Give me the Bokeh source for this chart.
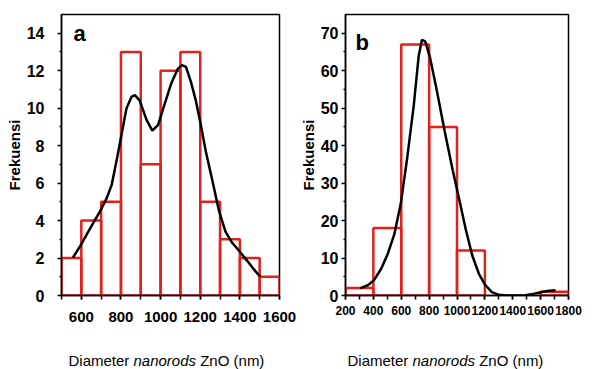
from bokeh.plotting import figure
from bokeh.models import Range1d, FixedTicker, Label
from bokeh.layouts import row, column
from bokeh.core.properties import value
from bokeh.embed import file_html
from bokeh.resources import INLINE

# ---------------- Panel a data ----------------
a_bin_left = [500, 600, 700, 800, 900, 1000, 1100, 1200, 1300, 1400, 1500]
a_bin_right = [600, 700, 800, 900, 1000, 1100, 1200, 1300, 1400, 1500, 1600]
a_counts = [2, 4, 5, 13, 7, 12, 13, 5, 3, 2, 1]
a_curve_x = [558, 595, 628, 662, 695, 728, 753, 778, 803, 828, 853, 870, 895, 928,
             958, 987, 1020, 1053, 1087, 1108, 1128, 1153, 1178, 1203, 1228, 1262,
             1295, 1328, 1362, 1395, 1437, 1478, 1503]
a_curve_y = [2.03, 2.65, 3.27, 3.9, 4.5, 5.2, 5.9, 7.2, 8.6, 10.0, 10.6, 10.7, 10.4, 9.4,
             8.8, 9.1, 10.2, 11.3, 12.1, 12.3, 12.2, 11.4, 10.4, 9.1, 7.7, 6.1,
             4.5, 3.4, 2.8, 2.4, 1.85, 1.3, 1.0]
a_xticks = [600, 800, 1000, 1200, 1400, 1600]
a_xminor = [500, 600, 700, 800, 900, 1000, 1100, 1200, 1300, 1400, 1500, 1600]
a_yticks = [0, 2, 4, 6, 8, 10, 12, 14]
a_yminor = [1, 3, 5, 7, 9, 11, 13]

# ---------------- Panel b data ----------------
b_bin_left = [200, 400, 600, 800, 1000, 1600]
b_bin_right = [400, 600, 800, 1000, 1200, 1800]
b_counts = [2, 18, 67, 45, 12, 1]
b_curve_x = [305, 363, 405, 457, 503, 550, 597, 643, 690, 725, 748, 772, 807, 853,
             912, 970, 1017, 1063, 1110, 1157, 1203, 1250, 1297, 1367, 1483, 1553,
             1647, 1706]
b_curve_y = [1.9, 2.8, 4.1, 7.2, 11.1, 16.3, 24.6, 36.8, 50.8, 63.9, 68.2, 67.8, 63.4, 55.1,
             43.8, 33.3, 25.5, 17.6, 10.6, 5.8, 2.8, 0.9, 0.2, 0.0, 0.0, 0.5,
             1.2, 1.4]
b_xticks = [200, 400, 600, 800, 1000, 1200, 1400, 1600, 1800]
b_xminor = [200, 300, 400, 500, 600, 700, 800, 900, 1000, 1100, 1200, 1300, 1400,
            1500, 1600, 1700, 1800]
b_yticks = [0, 10, 20, 30, 40, 50, 60, 70]
b_yminor = [5, 15, 25, 35, 45, 55, 65]

y_label = "Frekuensi"
x_label_parts = ["Diameter", "nanorods", "ZnO (nm)"]
x_label_styles = ["normal", "italic", "normal"]

RED = "#e2211c"
FONT = "Liberation Sans"


def style(p, xt, xm, yt, ym, xstand, ystand, xsize, ysize):
    p.xgrid.visible = False
    p.ygrid.visible = False
    p.outline_line_color = "black"
    p.outline_line_width = 1.5
    p.background_fill_color = "white"
    p.border_fill_color = "white"
    p.xaxis.ticker = FixedTicker(ticks=xt, minor_ticks=xm)
    p.yaxis.ticker = FixedTicker(ticks=yt, minor_ticks=ym)
    for ax in (p.xaxis[0], p.yaxis[0]):
        ax.axis_line_color = "black"
        ax.axis_line_width = 1.5
        ax.major_tick_in = 0
        ax.major_tick_out = 4
        ax.minor_tick_in = 0
        ax.major_tick_line_color = "black"
        ax.minor_tick_line_color = "black"
        ax.major_tick_line_width = 1.5
        ax.minor_tick_line_width = 1.5
        ax.major_label_text_font = FONT
        ax.major_label_text_font_style = "bold"
        ax.major_label_text_color = "black"
    p.xaxis.major_label_text_font_size = xsize
    p.yaxis.major_label_text_font_size = ysize
    p.xaxis.minor_tick_out = 4
    p.yaxis.minor_tick_out = 2
    p.xaxis.major_label_standoff = xstand
    p.yaxis.major_label_standoff = ystand
    p.yaxis.axis_label = y_label
    p.yaxis.axis_label_text_font = FONT
    p.yaxis.axis_label_text_font_style = "bold"
    p.yaxis.axis_label_text_font_size = "15px"
    p.yaxis.axis_label_text_color = "black"
    p.yaxis.axis_label_standoff = 1


# ---------------- Figure a ----------------
pa = figure(width=296, height=335, x_range=Range1d(500, 1600), y_range=Range1d(0, 15),
            output_backend="svg", toolbar_location=None,
            min_border_left=61, min_border_right=17, min_border_top=13, min_border_bottom=40)
style(pa, a_xticks, a_xminor, a_yticks, a_yminor, 12, 13, "15px", "16px")
pa.quad(left=a_bin_left, right=a_bin_right, top=a_counts, bottom=0,
        fill_color=None, line_color=RED, line_width=2.5)
pa.line(a_curve_x, a_curve_y, line_color="black", line_width=2.5)
pa.add_layout(Label(x=560, y=14.0, text="a", text_font=FONT, text_font_size="22px",
                    text_font_style="bold", text_color="black", text_baseline="alphabetic"))

# ---------------- Figure b ----------------
pb = figure(width=304, height=335, x_range=Range1d(200, 1800), y_range=Range1d(0, 75),
            output_backend="svg", toolbar_location=None,
            min_border_left=42, min_border_right=32, min_border_top=14, min_border_bottom=34)
style(pb, b_xticks, b_xminor, b_yticks, b_yminor, 6, 3, "12px", "16px")
pb.quad(left=b_bin_left, right=b_bin_right, top=b_counts, bottom=0,
        fill_color=None, line_color=RED, line_width=2.5)
pb.line(b_curve_x, b_curve_y, line_color="black", line_width=2.5)
pb.add_layout(Label(x=272, y=67.5, text="b", text_font=FONT, text_font_size="22px",
                    text_font_style="bold", text_color="black", text_baseline="alphabetic"))

# ---------------- Strip with the x-axis titles ----------------
pl = figure(width=600, height=34, x_range=Range1d(0, 600), y_range=Range1d(0, 34),
            x_axis_type=None, y_axis_type=None,
            output_backend="svg", toolbar_location=None, min_border=0)
pl.grid.visible = False
pl.outline_line_color = None
# offsets (px) of the three parts of a title, Liberation Sans 15px
part_offsets = [0, 65.0, 131.7]
for start in (68, 347):
    for txt, st, off in zip(x_label_parts, x_label_styles, part_offsets):
        pl.text(x=[start + off], y=[9], text=[txt], text_font=value(FONT),
                text_font_size="15px", text_font_style=st, text_color="black",
                text_align="left", text_baseline="middle")

layout = column(row(pa, pb), pl)
open("out.html", "w").write(file_html(layout, INLINE))
